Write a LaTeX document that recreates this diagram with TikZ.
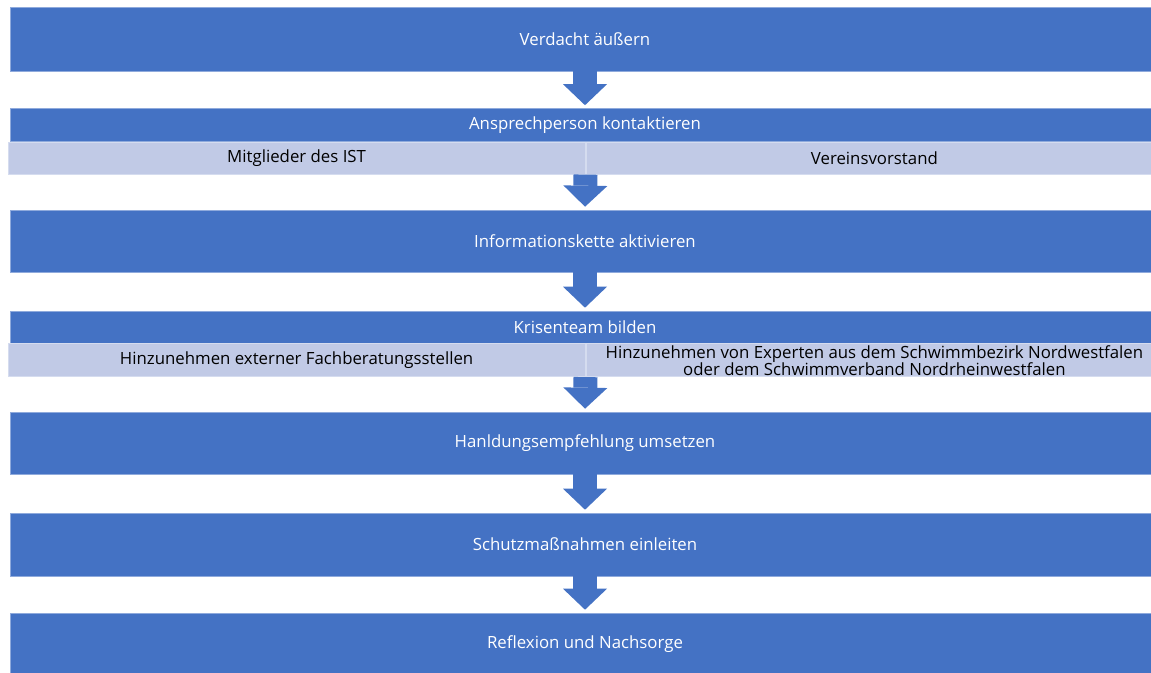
\documentclass[tikz,border=0pt]{standalone}
\usepackage{fontspec}
\setmainfont{Open Sans}[Ligatures=NoCommon]
\usetikzlibrary{positioning,arrows.meta,calc}
\definecolor{stepblue}{RGB}{68,114,196}
\definecolor{stepedge}{RGB}{143,170,220}
\definecolor{steplight}{RGB}{193,202,230}
\definecolor{stepline}{RGB}{213,220,239}
\tikzset{
    stage/.style={
        rectangle,
        fill=stepblue,
        draw=stepedge,
        line width=0.6pt,
        minimum width=1150pt,
        minimum height=63pt,
        inner sep=0pt,
        text=white,
        font=\fontsize{16.8}{17}\selectfont
    },
    headbar/.style={stage,minimum height=33pt},
    sub/.style={
        rectangle,
        fill=steplight,
        draw=stepline,
        line width=0.8pt,
        minimum width=577pt,
        minimum height=32pt,
        inner sep=0pt,
        align=center,
        text=black,
        font=\fontsize{16.8}{17}\selectfont
    },
    flow/.style={stepblue,line width=24pt,shorten >=3pt,
        -{Triangle[length=21pt,width=44pt,line width=0pt]}}
}

\begin{document}
\begin{tikzpicture}[x=1pt,y=-1pt]
\useasboundingbox (0,0) rectangle (1151,672);
\node[stage,minimum height=64pt] (s1) at (585,39) {Verdacht äußern};
\node[headbar] (h2) at (585,125) {Ansprechperson kontaktieren};
\node[sub,anchor=north west] (a2) at ($(h2.south west)+(-2,0)$) {Mitglieder des IST};
\node[sub,right=0pt of a2] (b2) {Vereinsvorstand};
\node[stage,minimum height=62pt] (s3) at (585,241) {Informationskette aktivieren};
\node[headbar,minimum height=32pt] (h4) at (585,327) {Krisenteam bilden};
\node[sub,anchor=north west,minimum height=33pt] (a4) at ($(h4.south west)+(-2,0)$) {Hinzunehmen externer Fachberatungsstellen};
\node[sub,right=0pt of a4,minimum height=33pt] (b4) {Hinzunehmen von Experten aus dem Schwimmbezirk Nordwestfalen\\oder dem Schwimmverband Nordrheinwestfalen};
\node[stage,minimum height=62pt] (s5) at (585,443) {Hanldungsempfehlung umsetzen};
\node[stage] (s6) at (585,544.5) {Schutzmaßnahmen einleiten};
\node[stage] (s7) at (585,644.5) {Reflexion und Nachsorge};
\draw[flow] (s1.south) -- (h2.north);
\draw[flow] (a2.south east) -- (s3.north);
\draw[flow] (s3.south) -- (h4.north);
\draw[flow] (a4.south east) -- (s5.north);
\draw[flow] (s5.south) -- (s6.north);
\draw[flow] (s6.south) -- (s7.north);
\end{tikzpicture}
\end{document}
